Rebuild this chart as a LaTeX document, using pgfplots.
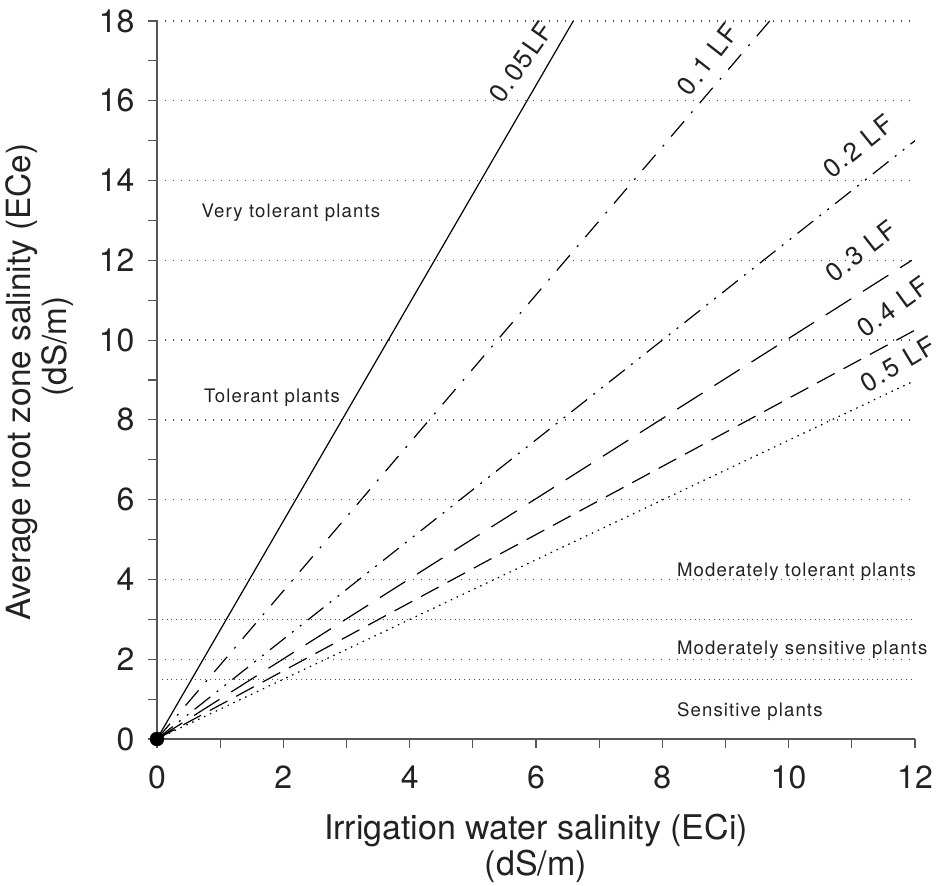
\documentclass[border=0pt]{standalone}
\usepackage{fontspec}
\setmainfont{TeX Gyre Heros}
\newfontfamily\zonefont[LetterSpace=6]{TeX Gyre Heros}
\newfontfamily\lffont[LetterSpace=8]{TeX Gyre Heros}
\usepackage{pgfplots}
\pgfplotsset{compat=1.18}

\definecolor{ink}{HTML}{222222}
\definecolor{axisgray}{HTML}{555555}

\begin{document}
\begin{tikzpicture}
\useasboundingbox (-157pt,-147pt) rectangle (780pt,739pt);
\begin{axis}[
    at={(0,0)}, anchor=south west,
    scale only axis, width=758pt, height=718pt,
    xmin=0, xmax=12, ymin=0, ymax=18,
    clip=false,
    axis x line*=bottom, axis y line*=left,
    axis line style={line width=1.4pt, color=axisgray},
    xtick={0,2,...,12}, ytick={0,2,...,18},
    minor xtick={1,3,...,11}, minor ytick={1,3,...,17},
    tick align=outside,
    major tick length=9pt, minor tick length=9pt,
    every tick/.style={line width=1.2pt, color=axisgray},
    /pgf/number format/assume math mode=true,
    ticklabel style={font=\fontsize{32}{36}\selectfont, color=ink},
    xticklabel style={yshift=-14pt},
    yticklabel style={xshift=-10pt},
    ymajorgrids,
    major grid style={line width=1.4pt, color=black!70, dash pattern=on 1.4pt off 6.6pt},
    extra y ticks={1.5,3},
    extra y tick labels={},
    extra y tick style={major tick length=0pt,
        major grid style={line width=0.8pt, color=black!70, dash pattern=on 0.8pt off 4pt}},
    xlabel={Irrigation water salinity (ECi)\\(dS/m)},
    ylabel={Average root zone salinity (ECe)\\\hspace*{72pt}(dS/m)},
    xlabel style={at={(rel axis cs:0.5,0)}, yshift=-109pt, anchor=center,
        align=center, font=\fontsize{34}{36}\selectfont, color=ink},
    ylabel style={at={(rel axis cs:0,0.497)}, yshift=117pt, anchor=center,
        align=center, font=\fontsize{33.3}{36}\selectfont, color=ink},
]
% leaching fraction lines
\addplot[black, line width=1.2pt] coordinates {(0,0) (6.59,18)};
\addplot[black, line width=1.2pt, dash pattern=on 20pt off 11pt on 2pt off 11pt]
    coordinates {(0,0) (9.70,18)};
\addplot[black, line width=1.2pt, dash pattern=on 20pt off 8pt on 2pt off 8pt on 2pt off 8pt]
    coordinates {(0,0) (12,15)};
\addplot[black, line width=1.2pt, dash pattern=on 30pt off 14pt]
    coordinates {(0,0) (11.95,12)};
\addplot[black, line width=1.2pt, dash pattern=on 20pt off 10pt]
    coordinates {(0,0) (12,10.25)};
\addplot[black, line width=1.2pt, dash pattern=on 1.5pt off 5pt]
    coordinates {(0,0) (11.95,8.95)};
\addplot[black, only marks, mark=*, mark size=7pt] coordinates {(0,0)};

% line labels
\node[rotate=55, font=\lffont\fontsize{26}{26}\selectfont, color=ink] at (axis cs:5.76,16.97) {0.05LF};
\node[rotate=52, font=\lffont\fontsize{26}{26}\selectfont, color=ink] at (axis cs:8.72,17.04) {0.1 LF};
\node[rotate=39, font=\lffont\fontsize{26}{26}\selectfont, color=ink] at (axis cs:11.10,14.86) {0.2 LF};
\node[rotate=38, font=\lffont\fontsize{26}{26}\selectfont, color=ink] at (axis cs:11.14,12.23) {0.3 LF};
\node[rotate=36, font=\lffont\fontsize{26}{26}\selectfont, color=ink] at (axis cs:11.65,10.83) {0.4 LF};
\node[rotate=31, font=\lffont\fontsize{26}{26}\selectfont, color=ink] at (axis cs:11.73,9.40) {0.5 LF};

% tolerance zones
\node[font=\zonefont\fontsize{18.6}{20}\selectfont, color=ink] at (axis cs:2.12,13.2) {Very tolerant plants};
\node[font=\zonefont\fontsize{18.6}{20}\selectfont, color=ink] at (axis cs:1.82,8.55) {Tolerant plants};
\node[anchor=west, inner sep=0pt, font=\zonefont\fontsize{18.6}{20}\selectfont, color=ink] at (axis cs:8.23,4.19) {Moderately tolerant plants};
\node[anchor=west, inner sep=0pt, font=\zonefont\fontsize{18.6}{20}\selectfont, color=ink] at (axis cs:8.23,2.23) {Moderately sensitive plants};
\node[anchor=west, inner sep=0pt, font=\zonefont\fontsize{18.6}{20}\selectfont, color=ink] at (axis cs:8.23,0.68) {Sensitive plants};
\end{axis}
\end{tikzpicture}
\end{document}
